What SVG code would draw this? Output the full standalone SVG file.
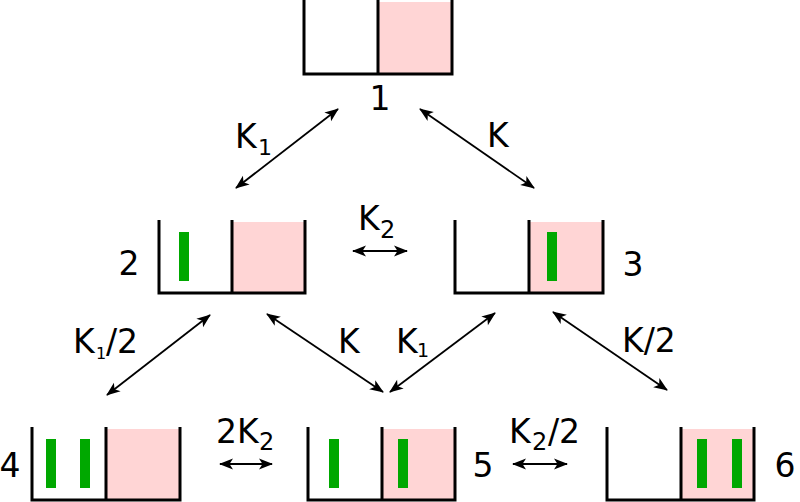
<svg xmlns="http://www.w3.org/2000/svg" width="800" height="502" viewBox="0 0 800 502">
<defs>
<style>
.wall{fill:none;stroke:#000;stroke-width:3;stroke-linejoin:miter}
.pink{fill:#ffd5d5}
.bar{fill:#00a800}
.t{font-family:"DejaVu Sans",Verdana,sans-serif;font-size:33px;fill:#000}
.s{font-family:"DejaVu Sans",Verdana,sans-serif;fill:#000}
.arr{fill:none;stroke:#000;stroke-width:1.8;marker-start:url(#ah);marker-end:url(#ah)}
</style>
<marker id="ah" viewBox="-14 -6 16 12" refX="0" refY="0" markerWidth="16" markerHeight="12" markerUnits="userSpaceOnUse" orient="auto-start-reverse">
<path d="M1,0 L-13,-5.5 L-9.5,0 L-13,5.5 Z" fill="#000"/>
</marker>
</defs>
<rect width="800" height="502" fill="#fff"/>

<g id="node1">
<rect class="pink" x="378" y="2" width="74" height="72"/>
<path class="wall" d="M304,0 V74 H452 V0 M378,0 V74"/>
<text class="t" x="380" y="110" text-anchor="middle">1</text>
</g>

<g id="node2">
<rect class="pink" x="232" y="222" width="73" height="71"/>
<rect class="bar" x="179" y="232" width="10" height="49"/>
<path class="wall" d="M159,220 V293 H305 V220 M232,220 V293"/>
<text class="t" x="129" y="275" text-anchor="middle">2</text>
</g>

<g id="node3">
<rect class="pink" x="529" y="222" width="74" height="71"/>
<rect class="bar" x="547" y="232" width="10" height="49"/>
<path class="wall" d="M455,220 V293 H603 V220 M529,220 V293"/>
<text class="t" x="633" y="276" text-anchor="middle">3</text>
</g>

<g id="node4">
<rect class="pink" x="106" y="429" width="74" height="71"/>
<rect class="bar" x="46" y="439" width="10" height="49"/>
<rect class="bar" x="80" y="439" width="10" height="49"/>
<path class="wall" d="M32,427 V500 H180 V427 M106,427 V500"/>
<text class="t" x="10" y="477" text-anchor="middle">4</text>
</g>

<g id="node5">
<rect class="pink" x="382" y="429" width="73" height="71"/>
<rect class="bar" x="329" y="439" width="10" height="49"/>
<rect class="bar" x="398" y="439" width="10" height="49"/>
<path class="wall" d="M308,427 V500 H455 V427 M382,427 V500"/>
<text class="t" x="483" y="477" text-anchor="middle">5</text>
</g>

<g id="node6">
<rect class="pink" x="681" y="429" width="73" height="71"/>
<rect class="bar" x="697" y="439" width="10" height="49"/>
<rect class="bar" x="732" y="439" width="10" height="49"/>
<path class="wall" d="M607,427 V500 H754 V427 M681,427 V500"/>
<text class="t" x="785" y="477" text-anchor="middle">6</text>
</g>

<g id="connectors">
<line class="arr" x1="338" y1="109" x2="236" y2="188"/>
<line class="arr" x1="420" y1="109" x2="534" y2="188"/>
<line class="arr" x1="353" y1="251" x2="407" y2="251"/>
<line class="arr" x1="210" y1="315" x2="107" y2="395"/>
<line class="arr" x1="267" y1="314" x2="383" y2="392"/>
<line class="arr" x1="495" y1="313" x2="390" y2="392"/>
<line class="arr" x1="553" y1="312" x2="667" y2="390"/>
<line class="arr" x1="220" y1="464" x2="272" y2="464"/>
<line class="arr" x1="513" y1="464" x2="567" y2="464"/>
</g>

<g id="labels">
<text class="t" x="235" y="148">K</text><text class="s" font-size="22" x="258" y="155">1</text>
<text class="t" x="487" y="147">K</text>
<text class="t" x="358" y="230">K</text><text class="s" font-size="24" x="380" y="238">2</text>
<text class="t" x="73" y="353">K</text><text class="s" font-size="16" x="96" y="359">1</text><text class="t" x="106" y="353">/2</text>
<text class="t" x="338" y="353">K</text>
<text class="t" x="396" y="353">K</text><text class="s" font-size="19" x="417" y="357">1</text>
<text class="t" x="622" y="352">K/2</text>
<text class="t" x="216" y="443">2K</text><text class="s" font-size="24" x="259" y="450">2</text>
<text class="t" x="509" y="443">K</text><text class="s" font-size="24" x="532" y="450">2</text><text class="t" x="548" y="443">/2</text>
</g>
</svg>
